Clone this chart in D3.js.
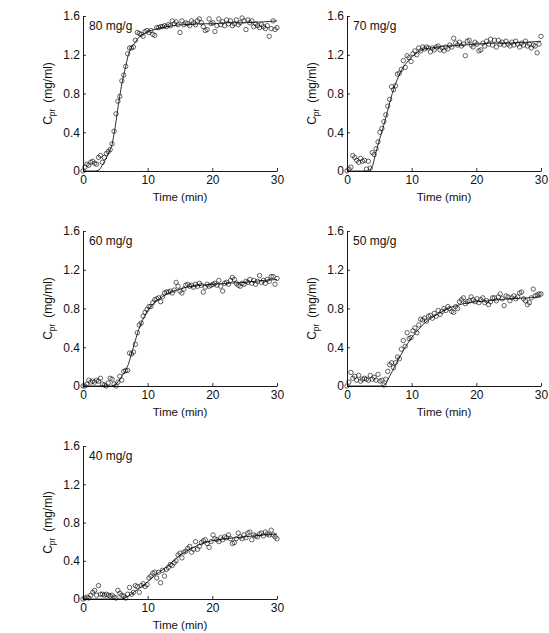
<!DOCTYPE html>
<html>
<head>
<meta charset="utf-8">
<script src="https://cdn.jsdelivr.net/npm/d3@7"></script>
<style>
  body { margin: 0; background: #fff; }
  svg { font-family: "Liberation Sans", Arial, sans-serif; }
</style>
</head>
<body>
<div id="graph"></div>
<script>
// sampling times (min), shared by every run
var timeMin = [0, 0.3, 0.6, 0.9, 1.2, 1.5, 1.8, 2.1, 2.4, 2.7, 3, 3.3, 3.6, 3.9, 4.2, 4.5, 4.8, 5.1, 5.4, 5.7,
  6, 6.3, 6.6, 6.9, 7.2, 7.5, 7.8, 8.1, 8.4, 8.7, 9, 9.3, 9.6, 9.9, 10.2, 10.5, 10.8, 11.1, 11.4, 11.7,
  12, 12.3, 12.6, 12.9, 13.2, 13.5, 13.8, 14.1, 14.4, 14.7, 15, 15.3, 15.6, 15.9, 16.2, 16.5, 16.8, 17.1, 17.4, 17.7,
  18, 18.3, 18.6, 18.9, 19.2, 19.5, 19.8, 20.1, 20.4, 20.7, 21, 21.3, 21.6, 21.9, 22.2, 22.5, 22.8, 23.1, 23.4, 23.7,
  24, 24.3, 24.6, 24.9, 25.2, 25.5, 25.8, 26.1, 26.4, 26.7, 27, 27.3, 27.6, 27.9, 28.2, 28.5, 28.8, 29.1, 29.4, 29.7, 30];

// measured C_pr (mg/ml)
var conc80 = [0, 0.04, 0.07, 0.06, 0.09, 0.10, 0.08, 0.07, 0.14, 0.16, 0.09, 0.14, 0.18, 0.20, 0.22, 0.28, 0.41, 0.59, 0.72, 0.77,
  0.93, 0.99, 1.08, 1.21, 1.27, 1.27, 1.28, 1.35, 1.43, 1.42, 1.41, 1.39, 1.44, 1.45, 1.43, 1.45, 1.41, 1.40, 1.48, 1.48,
  1.49, 1.49, 1.50, 1.49, 1.51, 1.50, 1.55, 1.52, 1.54, 1.51, 1.43, 1.55, 1.51, 1.53, 1.52, 1.50, 1.55, 1.53, 1.51, 1.55,
  1.57, 1.53, 1.49, 1.45, 1.46, 1.57, 1.52, 1.53, 1.44, 1.50, 1.57, 1.51, 1.54, 1.50, 1.56, 1.52, 1.55, 1.50, 1.52, 1.56,
  1.51, 1.53, 1.58, 1.55, 1.46, 1.56, 1.53, 1.55, 1.49, 1.52, 1.50, 1.48, 1.51, 1.49, 1.47, 1.50, 1.39, 1.47, 1.55, 1.46, 1.48];
var conc70 = [0, 0.02, 0.04, 0.16, 0.14, 0.11, 0.09, 0.13, 0.10, 0.11, 0.02, 0.10, 0.03, 0.19, 0.17, 0.23, 0.30, 0.40, 0.44, 0.51,
  0.58, 0.67, 0.74, 0.87, 0.84, 0.88, 1.00, 1.01, 1.05, 1.14, 1.07, 1.19, 1.17, 1.13, 1.21, 1.24, 1.20, 1.27, 1.24, 1.28,
  1.26, 1.28, 1.27, 1.23, 1.27, 1.25, 1.28, 1.29, 1.25, 1.27, 1.24, 1.28, 1.26, 1.30, 1.28, 1.37, 1.32, 1.30, 1.33, 1.29,
  1.31, 1.19, 1.34, 1.35, 1.30, 1.28, 1.33, 1.31, 1.24, 1.25, 1.32, 1.29, 1.34, 1.31, 1.36, 1.30, 1.35, 1.28, 1.35, 1.31,
  1.33, 1.30, 1.34, 1.31, 1.29, 1.33, 1.30, 1.34, 1.31, 1.28, 1.32, 1.30, 1.34, 1.29, 1.31, 1.27, 1.30, 1.29, 1.22, 1.31, 1.39];
var conc60 = [0, 0, 0.02, 0.06, 0.04, 0.05, 0.04, 0.06, 0.05, 0.08, 0.02, 0.01, 0, 0.03, 0.08, 0.07, 0.02, 0, 0.04, 0.10,
  0.06, 0.15, 0.16, 0.16, 0.34, 0.33, 0.35, 0.43, 0.55, 0.63, 0.65, 0.72, 0.76, 0.79, 0.82, 0.82, 0.86, 0.89, 0.90, 0.91,
  0.87, 0.92, 0.96, 0.97, 0.97, 0.98, 0.96, 0.99, 1.07, 1.03, 0.98, 0.96, 1.00, 1.04, 1.05, 1.03, 1.04, 1.02, 1.05, 1.03,
  1.06, 1.04, 0.97, 1.02, 1.05, 1.03, 1.04, 1.05, 1.06, 1.04, 1.09, 1.03, 0.98, 1.06, 1.07, 1.05, 1.09, 1.12, 1.10, 1.06,
  1.04, 1.03, 1.06, 1.05, 1.08, 1.07, 1.10, 1.06, 1.09, 1.05, 1.08, 1.14, 1.07, 1.09, 1.06, 1.10, 1.08, 1.13, 1.13, 1.05, 1.11];
var conc50 = [0, 0.04, 0.14, 0.08, 0.10, 0.06, 0.11, 0.05, 0.07, 0.08, 0.07, 0.06, 0.11, 0.07, 0.09, 0.06, 0.12, 0.05, 0.06, 0.01,
  0.07, 0.15, 0.22, 0.24, 0.19, 0.24, 0.30, 0.28, 0.38, 0.47, 0.41, 0.55, 0.49, 0.50, 0.57, 0.60, 0.55, 0.63, 0.69, 0.68,
  0.70, 0.67, 0.72, 0.73, 0.70, 0.75, 0.72, 0.78, 0.74, 0.77, 0.80, 0.78, 0.82, 0.80, 0.77, 0.76, 0.82, 0.80, 0.87, 0.89,
  0.91, 0.85, 0.87, 0.88, 0.92, 0.89, 0.87, 0.90, 0.86, 0.89, 0.91, 0.86, 0.88, 0.84, 0.87, 0.91, 0.91, 0.88, 0.92, 0.95,
  0.90, 0.83, 0.93, 0.92, 0.88, 0.91, 0.93, 0.90, 0.92, 0.96, 0.97, 0.90, 0.88, 0.84, 0.86, 0.91, 1.00, 0.93, 0.94, 0.95, 0.95];
var conc40 = [0, 0.01, 0.02, 0.01, 0.04, 0.07, 0.09, 0.04, 0.14, 0.05, 0.05, 0.04, 0.05, 0.04, 0.03, 0.04, 0.02, 0.01, 0.09, 0.06,
  0.04, 0.03, 0.01, 0.05, 0.12, 0.05, 0.07, 0.14, 0.13, 0.07, 0.14, 0.16, 0.13, 0.15, 0.22, 0.24, 0.27, 0.28, 0.22, 0.28,
  0.17, 0.30, 0.24, 0.31, 0.33, 0.36, 0.35, 0.38, 0.40, 0.46, 0.48, 0.43, 0.49, 0.50, 0.53, 0.55, 0.49, 0.52, 0.60, 0.52,
  0.55, 0.59, 0.61, 0.62, 0.58, 0.54, 0.60, 0.67, 0.63, 0.62, 0.60, 0.64, 0.62, 0.65, 0.64, 0.67, 0.63, 0.58, 0.59, 0.63,
  0.69, 0.65, 0.63, 0.67, 0.64, 0.69, 0.70, 0.62, 0.67, 0.66, 0.65, 0.68, 0.69, 0.66, 0.70, 0.68, 0.67, 0.72, 0.67, 0.65, 0.63];

// model fit curves
var fitTime = [0, 1, 2, 2.5, 3, 3.5, 4, 4.5, 5, 5.5, 6, 6.5, 7, 7.5, 8, 8.5, 9, 9.5, 10, 11, 12, 13, 14, 15, 16, 18, 20, 22, 25, 28, 30];
var fit80 = [0, 0, 0, 0.01, 0.06, 0.12, 0.19, 0.27, 0.46, 0.70, 0.90, 1.05, 1.20, 1.28, 1.32, 1.37, 1.40, 1.42, 1.44, 1.46, 1.48, 1.49, 1.50, 1.51, 1.51, 1.52, 1.52, 1.53, 1.53, 1.54, 1.55];
var fit70 = [0, 0, 0, 0, 0, 0, 0.06, 0.20, 0.32, 0.43, 0.55, 0.68, 0.80, 0.90, 0.98, 1.05, 1.10, 1.14, 1.18, 1.23, 1.26, 1.27, 1.28, 1.29, 1.29, 1.30, 1.31, 1.32, 1.32, 1.33, 1.34];
var fit60 = [0, 0, 0, 0, 0, 0, 0, 0, 0.01, 0.05, 0.10, 0.15, 0.22, 0.33, 0.45, 0.56, 0.65, 0.72, 0.78, 0.86, 0.91, 0.95, 0.98, 1.00, 1.02, 1.04, 1.05, 1.06, 1.07, 1.09, 1.10];
var fit50 = [0, 0, 0, 0, 0, 0, 0, 0, 0, 0, 0.02, 0.09, 0.15, 0.22, 0.28, 0.34, 0.40, 0.45, 0.50, 0.58, 0.65, 0.70, 0.74, 0.78, 0.81, 0.85, 0.87, 0.88, 0.90, 0.91, 0.92];
var fit40 = [0, 0, 0, 0, 0, 0, 0, 0, 0, 0, 0, 0.01, 0.03, 0.05, 0.08, 0.10, 0.13, 0.15, 0.18, 0.24, 0.29, 0.34, 0.40, 0.46, 0.50, 0.57, 0.61, 0.63, 0.65, 0.67, 0.68];

var labels = ["80 mg/g", "70 mg/g", "60 mg/g", "50 mg/g", "40 mg/g"];
var xTicks = [0, 10, 20, 30];
var yTicks = [0, 0.4, 0.8, 1.2, 1.6];

var w = 549, h = 633;
var panels = [
  { label: labels[0], conc: conc80, fit: fit80, left: 83, top: 16, bottom: 171 },
  { label: labels[1], conc: conc70, fit: fit70, left: 347, top: 16, bottom: 171 },
  { label: labels[2], conc: conc60, fit: fit60, left: 83, top: 231, bottom: 386 },
  { label: labels[3], conc: conc50, fit: fit50, left: 347, top: 231, bottom: 386 },
  { label: labels[4], conc: conc40, fit: fit40, left: 83, top: 446, bottom: 599 }
];
var pw = 194;

var svg = d3.select("#graph")
  .append("svg")
  .attr("width", w)
  .attr("height", h);

panels.forEach(function (p) {
  var x = d3.scaleLinear().domain([0, 30]).range([p.left, p.left + pw]);
  var y = d3.scaleLinear().domain([0, 1.6]).range([p.bottom, p.top]);
  var g = svg.append("g");

  var xAxis = g.append("g")
    .attr("transform", "translate(0," + p.bottom + ")")
    .call(d3.axisBottom(x).tickValues(xTicks).tickSizeInner(-3).tickSizeOuter(0).tickPadding(4));
  var yAxis = g.append("g")
    .attr("transform", "translate(" + p.left + ",0)")
    .call(d3.axisLeft(y).tickValues(yTicks).tickFormat(d3.format(".1~f")).tickSizeInner(-3).tickSizeOuter(0).tickPadding(3));

  [xAxis, yAxis].forEach(function (a) {
    a.selectAll("text").attr("font-size", 12).attr("fill", "#111")
      .attr("font-family", "'Liberation Sans', Arial, sans-serif");
    a.selectAll("line").attr("stroke", "#000").attr("stroke-width", 0.8);
    a.select(".domain").attr("stroke", "#000").attr("stroke-width", 0.9);
  });

  // fit line
  var line = d3.line()
    .x(function (d, i) { return x(fitTime[i]); })
    .y(function (d) { return y(d); });
  g.append("path")
    .datum(p.fit)
    .attr("d", line)
    .attr("fill", "none")
    .attr("stroke", "#000")
    .attr("stroke-width", 0.8);

  // measured points
  g.selectAll("circle")
    .data(p.conc)
    .enter()
    .append("circle")
    .attr("cx", function (d, i) { return x(timeMin[i]); })
    .attr("cy", function (d) { return y(d); })
    .attr("r", 2.2)
    .attr("fill", "none")
    .attr("stroke", "#000")
    .attr("stroke-width", 0.6);

  g.append("text")
    .attr("x", p.left + 6)
    .attr("y", p.top + 14)
    .attr("font-size", 12)
    .attr("fill", "#111")
    .text(p.label);

  g.append("text")
    .attr("x", (x(0) + x(30)) / 2)
    .attr("y", p.bottom + 30)
    .attr("text-anchor", "middle")
    .attr("font-size", 11.5)
    .attr("fill", "#111")
    .text("Time (min)");

  var yl = g.append("text")
    .attr("transform", "translate(" + (p.left - 31) + "," + ((p.top + p.bottom) / 2) + ") rotate(-90)")
    .attr("text-anchor", "middle")
    .attr("fill", "#111")
    .attr("font-size", 12);
  yl.append("tspan").text("C");
  yl.append("tspan").attr("font-size", 8.5).attr("dy", 3).text("pr");
  yl.append("tspan").attr("dy", -3).text("\u2009 (mg/ml)");
});
</script>
</body>
</html>
